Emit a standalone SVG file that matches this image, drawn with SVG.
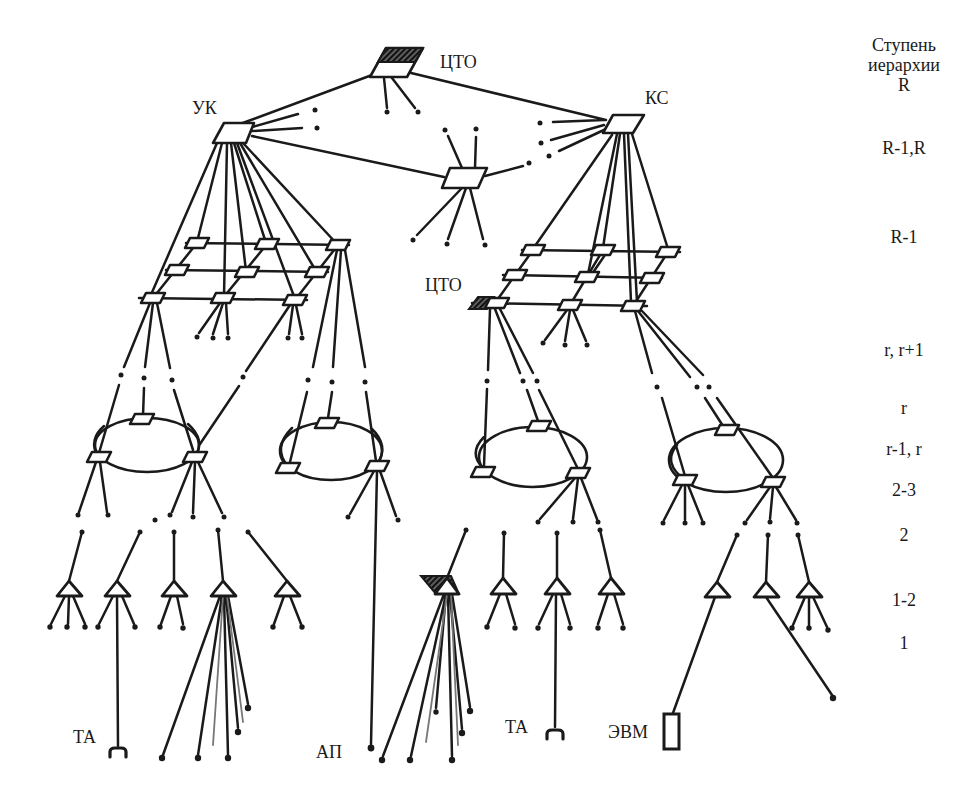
<svg xmlns="http://www.w3.org/2000/svg" width="969" height="803" viewBox="0 0 969 803">
<defs>
<style>
.ln{fill:none;stroke:#1a1a1a;stroke-width:2.5;stroke-linecap:round}
.gray{fill:none;stroke:#777;stroke-width:1.8;stroke-linecap:round}
.nd{fill:#fff;stroke:#1a1a1a;stroke-width:2.6;stroke-linejoin:round}
.hat{fill:url(#hatch);stroke:#1a1a1a;stroke-width:2}
.dot{fill:#1a1a1a}
.tri{fill:#fff;stroke:#1a1a1a;stroke-width:2.8;stroke-linejoin:round}
.ring{fill:none;stroke:#1a1a1a;stroke-width:2.6}
.ta{fill:none;stroke:#1a1a1a;stroke-width:3.2;stroke-linecap:round}
text{font-family:"Liberation Serif","Times New Roman",serif;font-size:18px;fill:#1a1a1a}
.lv{text-anchor:middle;font-size:18px}
</style>
<pattern id="hatch" width="4" height="4" patternUnits="userSpaceOnUse" patternTransform="rotate(45)">
<rect width="4" height="4" fill="#666"/>
<line x1="1" y1="0" x2="1" y2="4" stroke="#111" stroke-width="2.4"/>
</pattern>
<polygon id="gn" points="-7,-5 12,-5 7,5 -12,5"/>
</defs>
<rect width="969" height="803" fill="#fff"/>

<g id="connectors">
<path class="ln" d="M372,75 L240,124 M407,72 L606,120 M384,78 L387,108 M392,78 L415,108 M252,127 L298,114 M252,131 L302,128 M252,136 L444,177 M462,168 L448,136 M475,168 L476,137 M485,176 L523,166 M462,188 L417,235 M466,188 L448,239 M470,188 L483,239 M604,120 L553,122 M604,125 L551,140 M606,129 L559,151"/>
<path class="ln" d="M217,143 L150,297 M222,143 L197,242 M227,143 L224,297 M231,143 L246,271 M234,143 L266,243 M237,143 L295,299 M240,143 L316,271 M243,143 L337,244"/>
<path class="ln" d="M186,243 L349,245 M166,270 L328,272 M139,298 L307,300 M197,243 L153,298 M267,244 L223,298 M338,245 L295,300"/>
<path class="ln" d="M220,303 L199,333 M223,303 L213,334 M226,303 L228,334 M293,305 L289,334 M296,305 L302,334 M150,303 L124,367 M153,303 L145,367 M157,303 L170,368 M290,305 L246,371 M239,386 L200,444 M337,250 L313,367 M341,250 L333,367 M345,250 L365,367"/>
<path class="ln" d="M119,385 L99,453 M144,388 L143,416 M174,390 L193,450 M104,426 Q88,440 98,457 M188,424 Q206,440 195,457"/>
<path class="ln" d="M96,462 L79,512 M100,462 L107,512 M192,462 L172,512 M195,462 L193,513 M198,462 L222,513"/>
<path class="ln" d="M307,392 L290,462 M332,392 L328,418 M366,392 L376,461 M292,428 Q272,448 288,466 M371,428 Q390,446 377,464"/>
<path class="ln" d="M374,471 L350,514 M380,471 L396,516 M377,471 L371,744"/>
<path class="ln" d="M522,250 L680,252 M503,275 L662,278 M472,303 L647,306 M533,250 L495,303 M603,250 L570,305 M607,252 L590,277 M668,252 L633,306"/>
<path class="ln" d="M612,135 L535,246 M617,134 L588,274 M620,134 L603,248 M624,134 L631,302 M628,134 L637,302 M632,134 L668,249"/>
<path class="ln" d="M567,310 L545,340 M570,310 L565,341 M573,310 L586,341 M490,309 L488,370 M495,309 L520,373 M500,309 L533,373 M635,311 L652,373 M638,311 L690,377 M642,311 L703,375"/>
<path class="ln" d="M487,389 L484,466 M527,390 L538,421 M539,390 L577,467 M484,437 Q468,453 483,468"/>
<path class="ln" d="M575,478 L540,519 M578,478 L573,519 M581,478 L597,519"/>
<path class="ln" d="M662,398 L685,476 M705,398 L723,426 M717,398 L773,478 M677,445 Q662,463 685,480"/>
<path class="ln" d="M682,485 L664,520 M685,485 L685,520 M688,485 L702,520 M770,487 L747,520 M773,487 L770,519 M776,487 L796,520"/>
<path class="ln" d="M82,532 L69,581 M140,532 L117,581 M174,532 L174,581 M218,530 L223,581 M248,532 L287,581 M466,530 L447,578 M504,533 L503,578 M557,533 L557,578 M600,530 L611,578 M737,535 L717,582 M768,535 L766,582 M798,535 L809,582"/>
<path class="ln" d="M65,596 L51,624 M69,596 L68,624 M73,596 L85,624 M113,596 L99,624 M122,596 L134,624 M117,596 L118,746 M171,596 L161,624 M177,596 L183,624 M220,596 L163,755 M222,596 L198,755 M224,596 L228,755 M226,596 L238,728 M228,596 L248,704 M284,596 L274,624 M290,596 L301,624"/>
<path class="gray" d="M223,596 L213,745 M227,596 L243,722"/>
<path class="ln" d="M444,594 L383,756 M446,594 L411,756 M448,594 L452,756 M450,594 L462,729 M452,594 L470,707 M446,594 L436,708 M500,594 L488,624 M506,594 L515,624 M553,594 L539,624 M561,594 L570,624 M556,594 L555,727 M608,594 L598,624 M614,594 L623,624"/>
<path class="gray" d="M447,594 L426,742 M451,594 L458,745"/>
<path class="ln" d="M715,597 L673,713 M766,597 L832,695 M805,597 L793,625 M809,597 L809,625 M813,597 L827,627"/>
<path class="ta" d="M110,757 L110,752 Q110,748 115,748 L121,748 Q126,748 126,752 L126,757 M547,739 L547,734 Q547,730 552,730 L558,730 Q563,730 563,734 L563,739"/>
<g class="dot">
<circle cx="387" cy="112" r="2.5"/><circle cx="418" cy="112" r="2.5"/><circle cx="315" cy="110" r="2.5"/><circle cx="317" cy="128" r="2.5"/>
<circle cx="445" cy="130" r="2.5"/><circle cx="476" cy="129" r="2.5"/><circle cx="529" cy="163" r="2.5"/><circle cx="413" cy="240" r="2.5"/>
<circle cx="447" cy="244" r="2.5"/><circle cx="485" cy="245" r="2.5"/><circle cx="540" cy="123" r="2.5"/><circle cx="541" cy="143" r="2.5"/><circle cx="549" cy="156" r="2.5"/>
<circle cx="197" cy="337" r="2.5"/><circle cx="213" cy="338" r="2.5"/><circle cx="228" cy="338" r="2.5"/><circle cx="288" cy="338" r="2.5"/><circle cx="302" cy="338" r="2.5"/><circle cx="243" cy="377" r="2.5"/>
<circle cx="121" cy="375" r="2.5"/><circle cx="144" cy="378" r="2.5"/><circle cx="172" cy="380" r="2.5"/>
<circle cx="78" cy="515" r="2.5"/><circle cx="108" cy="515" r="2.5"/><circle cx="170" cy="515" r="2.5"/><circle cx="193" cy="517" r="2.5"/><circle cx="224" cy="517" r="2.5"/><circle cx="155" cy="520" r="2.5"/>
<circle cx="308" cy="380" r="2.5"/><circle cx="332" cy="382" r="2.5"/><circle cx="365" cy="382" r="2.5"/>
<circle cx="348" cy="517" r="2.5"/><circle cx="398" cy="520" r="2.5"/><circle cx="371" cy="748" r="3.4"/>
<circle cx="543" cy="343" r="2.5"/><circle cx="565" cy="345" r="2.5"/><circle cx="587" cy="345" r="2.5"/>
<circle cx="487" cy="381" r="2.5"/><circle cx="523" cy="381" r="2.5"/><circle cx="537" cy="381" r="2.5"/>
<circle cx="538" cy="522" r="2.5"/><circle cx="573" cy="522" r="2.5"/><circle cx="598" cy="522" r="2.5"/>
<circle cx="657" cy="387" r="2.5"/><circle cx="697" cy="387" r="2.5"/><circle cx="709" cy="387" r="2.5"/>
<circle cx="663" cy="523" r="2.5"/><circle cx="685" cy="523" r="2.5"/><circle cx="703" cy="523" r="2.5"/><circle cx="745" cy="523" r="2.5"/><circle cx="770" cy="522" r="2.5"/><circle cx="797" cy="523" r="2.5"/>
<circle cx="82" cy="532" r="2.5"/><circle cx="140" cy="532" r="2.5"/><circle cx="174" cy="532" r="2.5"/><circle cx="218" cy="530" r="2.5"/><circle cx="248" cy="532" r="2.5"/>
<circle cx="466" cy="530" r="2.5"/><circle cx="504" cy="533" r="2.5"/><circle cx="557" cy="533" r="2.5"/><circle cx="600" cy="530" r="2.5"/>
<circle cx="737" cy="535" r="2.5"/><circle cx="768" cy="535" r="2.5"/><circle cx="798" cy="535" r="2.5"/>
<circle cx="50" cy="627" r="2.7"/><circle cx="67" cy="627" r="2.7"/><circle cx="85" cy="627" r="2.7"/><circle cx="98" cy="627" r="2.7"/><circle cx="135" cy="627" r="2.7"/>
<circle cx="160" cy="627" r="2.7"/><circle cx="183" cy="628" r="2.7"/><circle cx="273" cy="627" r="2.7"/><circle cx="302" cy="627" r="2.7"/>
<circle cx="162" cy="758" r="3.2"/><circle cx="198" cy="758" r="3.2"/><circle cx="228" cy="758" r="3.2"/><circle cx="238" cy="732" r="3.2"/><circle cx="248" cy="708" r="3.2"/>
<circle cx="382" cy="760" r="3.2"/><circle cx="410" cy="760" r="3.2"/><circle cx="452" cy="760" r="3.2"/><circle cx="462" cy="733" r="3.2"/><circle cx="470" cy="711" r="3.2"/><circle cx="436" cy="712" r="2.7"/>
<circle cx="487" cy="627" r="2.7"/><circle cx="515" cy="628" r="2.7"/><circle cx="538" cy="628" r="2.7"/><circle cx="570" cy="628" r="2.7"/><circle cx="598" cy="628" r="2.7"/><circle cx="623" cy="628" r="2.7"/>
<circle cx="833" cy="698" r="3.2"/><circle cx="792" cy="628" r="2.7"/><circle cx="809" cy="628" r="2.7"/><circle cx="828" cy="630" r="2.7"/>
</g>
</g>

<g id="ring-left"><ellipse class="ring" cx="147" cy="445" rx="52" ry="27"/></g>
<g id="ring-center-left"><ellipse class="ring" cx="331" cy="451" rx="51" ry="29"/></g>
<g id="ring-center-right"><ellipse class="ring" cx="533" cy="457" rx="54" ry="30"/></g>
<g id="ring-right"><ellipse class="ring" cx="726" cy="460" rx="57" ry="32"/></g>

<g id="cto-top">
<polygon class="nd" points="386,48 423,48 407,77 370,77"/>
<polygon class="hat" points="386,48 423,48 415,62 378,62"/>
<text x="440" y="68">ЦТО</text>
</g>
<g id="uk"><polygon class="nd" points="224,123 254,123 246,143 213,143"/><text x="192" y="114">УК</text></g>
<g id="ks"><polygon class="nd" points="613,115 644,115 633,133 603,133"/><text x="645" y="104">КС</text></g>
<g id="mid"><polygon class="nd" points="450,168 487,168 478,188 442,188"/></g>

<g id="lg-nodes" class="nd">
<use href="#gn" x="197" y="243"/><use href="#gn" x="267" y="244"/><use href="#gn" x="338" y="245"/>
<use href="#gn" x="177" y="270"/><use href="#gn" x="247" y="272"/><use href="#gn" x="317" y="272"/>
<use href="#gn" x="153" y="298"/><use href="#gn" x="223" y="298"/><use href="#gn" x="295" y="300"/>
</g>
<g id="rg-nodes" class="nd">
<use href="#gn" x="533" y="250"/><use href="#gn" x="603" y="250"/><use href="#gn" x="668" y="252"/>
<use href="#gn" x="515" y="275"/><use href="#gn" x="587" y="277"/><use href="#gn" x="652" y="278"/>
<use href="#gn" x="570" y="305"/><use href="#gn" x="633" y="306"/>
</g>
<g id="cto-grid">
<polygon class="hat" points="478,297 494,297 487,309 469,309"/>
<use class="nd" href="#gn" x="497" y="303"/>
<text x="425" y="291">ЦТО</text>
</g>
<g id="ring-nodes" class="nd">
<use href="#gn" x="142" y="419"/><use href="#gn" x="99" y="457"/><use href="#gn" x="195" y="457"/>
<use href="#gn" x="327" y="423"/><use href="#gn" x="288" y="468"/><use href="#gn" x="377" y="466"/>
<use href="#gn" x="539" y="426"/><use href="#gn" x="483" y="472"/><use href="#gn" x="578" y="473"/>
<use href="#gn" x="727" y="430"/><use href="#gn" x="685" y="480"/><use href="#gn" x="773" y="482"/>
</g>

<g id="concentrators">
<polygon class="tri" points="69,581 57,596 82,596"/>
<polygon class="tri" points="117,581 105,596 130,596"/>
<polygon class="tri" points="174,581 162,596 187,596"/>
<polygon class="tri" points="223,581 211,596 236,596"/>
<polygon class="tri" points="287,581 275,596 300,596"/>
<polygon class="hat" points="421,576 451,576 459,594 436,594"/>
<polygon class="tri" points="447,578 435,594 459,594"/>
<polygon class="tri" points="503,578 491,594 516,594"/>
<polygon class="tri" points="557,578 545,594 570,594"/>
<polygon class="tri" points="611,578 599,594 624,594"/>
<polygon class="tri" points="717,582 705,597 730,597"/>
<polygon class="tri" points="766,582 754,597 779,597"/>
<polygon class="tri" points="809,582 797,597 822,597"/>
</g>

<g id="terminals">
<text x="73" y="743">ТА</text>
<text x="316" y="758">АП</text>
<text x="505" y="733">ТА</text>
<text x="608" y="738">ЭВМ</text>
<rect x="664" y="714" width="15" height="35" fill="#fff" stroke="#1a1a1a" stroke-width="3"/>
</g>

<g id="levels">
<text class="lv" x="904" y="51">Ступень</text>
<text class="lv" x="904" y="71">иерархии</text>
<text class="lv" x="904" y="91">R</text>
<text class="lv" x="904" y="154">R-1,R</text>
<text class="lv" x="904" y="243">R-1</text>
<text class="lv" x="904" y="356">r, r+1</text>
<text class="lv" x="904" y="414">r</text>
<text class="lv" x="904" y="455">r-1, r</text>
<text class="lv" x="904" y="496">2-3</text>
<text class="lv" x="904" y="541">2</text>
<text class="lv" x="904" y="606">1-2</text>
<text class="lv" x="904" y="649">1</text>
</g>
</svg>
